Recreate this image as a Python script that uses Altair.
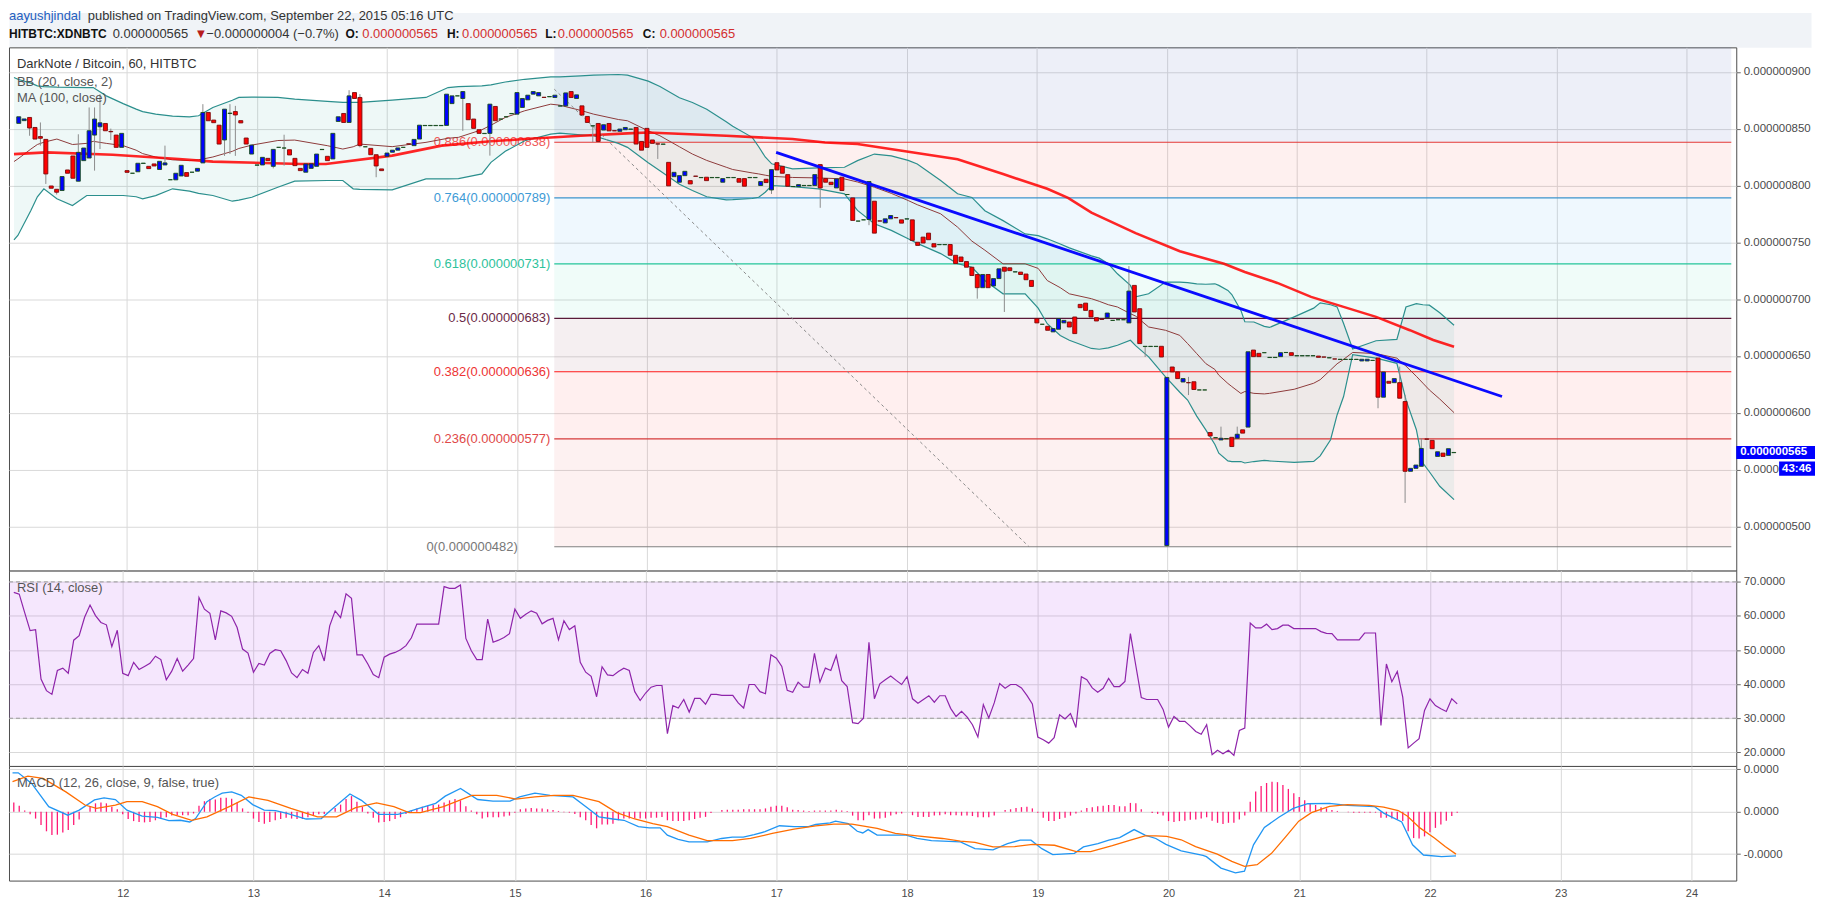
import altair as alt
import numpy as np
import pandas as pd

FONT = "Liberation Sans"
GRID = "#d9d9d9"

# ---------------- x axis (days of September 2015) ----------------
X_MIN, X_MAX = 11.13, 24.343
DAY_TICKS = list(range(12, 25))
FIRST_CANDLE = 11 + 4 / 24          # first hourly candle: 11 Sep 04:00

# ---------------- hourly candles (price in 1e-9 BTC) ----------------
opens = [
    854.6, 857, 859.8, 851, 843, 840.5, 799.5, 796.6, 795.5, 813.6,
    825.9, 803.7, 821.8, 824.1, 844.3, 851.6, 854.5, 847.5, 844.3, 833.5,
    813, 810.7, 812, 819.3, 816.8, 818.9, 814, 818, 805, 804.9,
    808.3, 811.3, 811.6, 812.5, 819.8, 864.2, 857.5, 853, 840, 863.3,
    865, 857, 841.7, 827.6, 817.8, 818, 823.8, 816.8, 833.5, 832.9,
    831.4, 823.8, 815,
    811.6, 815, 816.8, 831.5, 825.6, 823.3, 856.3, 863.3, 855.4, 881.7,
    877.4, 834, 832.6, 827, 814.5, 825.6, 829.2, 831, 833.5, 836.6,
    835, 840.8, 852.6, 852.6, 852.6, 852.6, 852.8, 872, 878.8, 876.5,
    872, 858.4, 849, 845.6, 845.8, 869.5, 858.4, 860.4, 863.1, 862.7,
    868.6, 875.3, 880.3, 878.8, 877.6, 878, 877.4, 869.8, 870, 882.6,
    876.5,
    870, 860.7, 852.3, 854.5, 848.7, 854.5, 848.2, 847.6, 849, 849.4,
    851, 838.7, 850.2, 840, 836.6, 836.2, 820.3, 807.7, 802.8, 808.6,
    804.2, 808.2, 806.8, 807.2, 806.8, 806.8, 802.8, 806.8, 806.8, 806,
    806, 806.8, 806.8, 799.9, 805.4, 796, 820, 816.8, 809.5, 799,
    799, 799.8, 799.8, 799.9, 818.3, 806, 802.8, 797.8, 807.2, 792,
    789, 768.6, 769.7, 770, 786.1, 768.8, 767, 770.6, 771.7, 769.7,
    770.4, 769.7, 750, 754.5, 758, 748.7, 747.8, 747.8, 748, 738.5,
    737, 733, 728, 721.6, 710, 721.6, 711.5, 718, 728, 727.5, 723.8, 723.7, 722, 716.4,
    682.7, 677.8, 676, 671.1, 673.4, 679, 679.8, 684.2, 695.3, 696.4,
    690, 683.6, 682.3, 683.6, 681.2, 681.8, 681.8, 679, 712, 691.5,
    658.2, 658.2, 658.2, 658.4, 483, 640.2, 635.9, 627, 626.5, 627.2,
    620, 620,
    582.5, 578, 576, 577, 578.3, 577.5, 584.9, 587.3,
    655.1, 652.2, 652.8, 648.5, 648.5, 649.3, 652.9, 652.8, 650, 650,
    650, 650, 649.8, 649, 648.2, 647.3, 646.8, 646.8, 646.8, 646.8,
    645.5, 645.5, 646, 648.1, 613.6, 627.6, 626.4, 626.4, 609.8, 548.4,
    551, 552.8, 576.8, 575.6, 561.5, 564.4, 562.4, 564.8,
]
closes = [
    860.4, 858.5, 850.5, 840.8, 841.5, 810.1, 797.5, 794, 807.8, 810.7,
    806.3, 829.1, 832.9, 848.1, 858.4, 855.1, 848.1, 847.2, 833.5, 845.8,
    811.5, 810.7, 819.5, 819.6, 814.8, 817.1, 821.2, 819.8, 805, 810.7,
    817.7, 808, 811.6, 815, 864.2, 856.9, 855.2, 836.4, 867.1, 863.6,
    862, 855, 836.4, 835.5, 818, 824.7, 821.8, 831.7, 833.5, 832.9,
    826.8, 817.4, 813,
    818.9, 819, 827.6, 831.7, 821.8, 845.8, 860.4, 855.4, 878.8, 876.5,
    835, 834, 827, 817.1, 813, 828.5, 831, 833, 833.5, 836.4,
    840.5, 853, 852.8, 852.8, 852.8, 852.8, 880.3, 878.8, 878.8, 882.6,
    857.8, 850.2, 845.8, 845.8, 871.5, 856.9, 858.4, 860.4, 863.3, 881.7,
    876.5, 879.4, 882.6, 881.7, 877.4, 878.2, 879.4, 870, 881.4, 877.4,
    879.7,
    861.9, 855.4, 852.5, 838.7, 853.4, 848, 848, 849.6, 851, 849.6,
    836.4, 831, 833.5, 837, 836.4, 836.4, 799.6, 811.5, 808.6, 812.4,
    801.3, 808, 807, 804.2, 807, 807, 806, 807, 807, 802.8,
    799.3, 807, 807, 803.4, 802.5, 813.9, 813.6, 810.7, 799.3, 799,
    800.7, 800, 800, 809.5, 797.8, 802.8, 800.7, 805.7, 795.5, 792,
    769.2, 768.6, 769.7, 803.4, 758, 768.6, 770.6, 773.5, 771.5, 766.8,
    770.6, 751.6, 747.2, 749.3, 752.2, 745.8, 748, 748, 738.5, 731.2,
    733, 728, 720.7, 710, 721.6, 710, 718, 726.6, 724.5, 725, 724, 721.6, 717, 711.1,
    679, 677.8, 672.5, 674, 682.7, 681.2, 675.4, 669.6, 692.4, 690,
    684.2, 680.7, 682.1, 687.7, 681.2, 681.8, 681.8, 707, 688.6, 660.8,
    658.4, 658.4, 658.4, 649, 631, 635.9, 630, 630, 626.3, 620.4,
    620, 620,
    579.5, 578, 577.5, 577.2, 570.2, 581, 582, 653.6,
    649.3, 649.3, 652.8, 648.7, 648.7, 652.8, 653, 650.4, 650.2, 650.2,
    650.2, 650.2, 648.7, 648.9, 648.4, 647.2, 647, 647, 647, 647,
    647, 647, 646, 613.6, 635.8, 625.9, 630, 612.7, 548.4, 551,
    553.9, 568.5, 576.7, 568.3, 565.6, 561.5, 568.3, 565,
]
# visible wicks: candle index, high, low
wick_idx = [2, 4, 5, 7, 11, 13, 14, 15, 17, 27, 34, 38, 39, 40, 47, 49, 61, 63, 66, 82, 87,
            106, 118, 139, 148, 157, 177, 182, 205, 208, 212, 216, 222, 225, 251, 255, 256, 259]
wick_high = [859.8, 855.4, 840.5, 796.6, 845, 868.6, 868.6, 880.3, 850, 835, 871.5, 867.1, 871.5, 870,
             831.7, 844.6, 883.8, 880.3, 827, 882.6, 871.5, 852.5, 836.6, 813.9, 818.3, 803.4, 721.6,
             728, 729, 658.4, 631, 631.5, 587.7, 587.7, 648.1, 640.5, 615.6, 577.6]
wick_low = [843.7, 835, 801.3, 792, 803.7, 824.1, 813, 832, 840, 818, 819.8, 826, 827.6, 826,
            815, 817.4, 855.4, 833.5, 807.2, 848, 826.2, 838, 823.3, 792.5, 780.3, 765, 700.3,
            688.6, 679, 649, 482, 615.5, 576, 577.5, 603.9, 612.7, 520.6, 552.8]

# ---------------- Bollinger bands (20, 2) and MA(100) ----------------
bb_day = [11.13, 11.16, 11.26, 11.31, 11.36, 11.46, 11.58, 11.69, 11.74, 11.84, 11.97, 12.07, 12.12,
          12.22, 12.35, 12.48, 12.55, 12.66, 12.81, 12.86, 12.96, 13.16, 13.29, 13.54, 13.66, 13.74,
          13.79, 14.04, 14.30, 14.47, 14.55, 14.73, 14.80, 14.91, 15.06, 15.26, 15.33, 15.49, 15.59,
          15.78, 15.85, 16.01, 16.10, 16.25, 16.35, 16.46, 16.61, 16.66, 16.81, 16.86, 16.91, 16.96,
          17.12, 17.32, 17.52, 17.62, 17.75, 17.88, 18.01, 18.08, 18.26, 18.39, 18.50, 18.60, 18.74,
          18.91, 19.01, 19.08, 19.18, 19.25, 19.42, 19.48, 19.55, 19.62, 19.72, 19.76, 19.86, 19.99,
          20.10, 20.16, 20.23, 20.30, 20.37, 20.40, 20.47, 20.50, 20.57, 20.60, 20.67, 20.75, 20.79,
          20.98, 21.13, 21.18, 21.26, 21.31, 21.36, 21.43, 21.61, 21.77, 21.84, 21.92, 21.97, 22.02,
          22.10, 22.21]
bb_upper = [895, 893.4, 890, 887.6, 887, 886.5, 886.3, 886.1, 886.1, 878.8, 872, 867.1, 865,
            862.7, 861, 860.4, 861.3, 868.6, 875, 877.4, 877.7, 877.4, 876, 874, 873, 873,
            873, 875, 877.4, 886.1, 887, 887.6, 888.5, 891, 893.4, 895.5, 895.5, 896.4, 897,
            897.6, 897, 891.8, 887, 877.2, 873, 867.1, 856, 852, 842.3, 834, 825, 819,
            814.5, 815.4, 816, 821.8, 827.6, 826, 822, 818.9, 804.3, 792.6, 789.4, 777.7, 769,
            757.3, 755.8, 753, 748.5, 745, 738, 736, 731, 722.2, 712, 702, 704.6, 714.9,
            714.9, 714.5, 713.4, 713, 713.4, 712, 707.6, 704, 690, 680, 679.8, 676, 675,
            684.3, 692, 696.6, 695, 693.1, 678.5, 656, 663.3, 664.5, 693, 696, 695, 694.6,
            688, 677]
bb_mid = [821, 823.3, 832, 836, 838, 840.8, 836, 837, 838.8, 837, 835, 831, 828,
          825, 822.5, 821.8, 822.5, 825, 830, 832.5, 835.5, 839.5, 839.9, 835, 832, 834,
          836.4, 834.1, 837.9, 841.5, 842.3, 849, 853, 859.8, 865.7, 871.5, 870.6, 866, 862.7,
          858, 856.9, 848, 843.7, 834, 827.6, 822, 816, 814, 811, 810.1, 809, 808,
          807, 806.6, 805.7, 803, 798.4, 793, 786.7, 783, 775, 763.3, 751, 743, 731,
          731, 727, 716.3, 710, 704.6, 700.3, 698, 695, 693, 687.1, 685, 675.4, 672.5,
          668, 660.8, 652, 643.2, 638, 633, 625.7, 623, 616.9, 618.6, 617, 616.5, 617,
          620.6, 625.9, 629, 637.6, 643, 646.9, 653, 652, 648, 641, 632, 626, 620,
          612, 600]
bb_lower = [752, 756, 778, 790, 797, 788.2, 782.3, 791.1, 791.1, 791.1, 791.1, 790, 788.2,
            791, 797, 795, 793, 791.1, 786.1, 787, 789.6, 798.4, 803.7, 804.3, 804.3, 797,
            796.5, 796.1, 805.7, 805.7, 806, 810.1, 820.3, 830, 839.3, 845.2, 846, 844.5, 843.7,
            837, 833.5, 820, 813, 801, 795.5, 790, 787.3, 787.5, 788.5, 789.6, 794, 799.9,
            799, 797, 792.6, 778, 766.2, 760.4, 753, 749, 740, 731.2, 728, 716.3, 704.6,
            704.6, 692, 678.3, 668, 663.7, 656.5, 655.8, 657, 659.3, 663.7, 659, 649.1, 631.5,
            618, 611.1, 597, 584.8, 572, 564.3, 557.5, 557, 557, 555.7, 557, 558, 557.5,
            556.3, 557.1, 562, 576.2, 598, 614.2, 651, 648, 643.4, 611.2, 585, 555.7, 548,
            535.2, 523.5]
ma_day = [11.13, 11.38, 11.89, 12.40, 12.66, 13.34, 13.53, 14.04, 14.42, 14.80, 15.06, 15.49,
          15.85, 16.01, 16.61, 17.12, 17.37, 17.62, 18.05, 18.39, 18.74, 19.08, 19.24, 19.42,
          19.76, 20.10, 20.44, 20.60, 20.85, 21.11, 21.36, 21.61, 21.87, 22.05, 22.21]
ma_val = [827.5, 829.1, 827, 823.3, 820.9, 818.9, 818.9, 826.2, 835, 838.8, 840.8, 843.7,
          845.8, 846.5, 843.7, 840.8, 837.7, 836.4, 829, 823, 810, 797, 789, 776,
          758, 742, 731, 723.8, 714.2, 701.9, 693.1, 684.3, 672.6, 663.9, 658]

# ---------------- drawings ----------------
trend_day = [16.994, 22.579]
trend_val = [829.1, 614.2]
diag_day = [15.287, 18.94]
diag_val = [884.7, 482]
FIB_START = 15.287
fib_price = [482, 577, 636, 683, 731, 789, 838]
fib_label = ["0(0.000000482)", "0.236(0.000000577)", "0.382(0.000000636)", "0.5(0.000000683)",
             "0.618(0.000000731)", "0.764(0.000000789)", "0.886(0.000000838)"]
fib_label_end = [15.006, 15.257, 15.257, 15.257, 15.257, 15.257, 15.257]   # right end of each label
fib_color = ["#808080", "#d63a3a", "#ff1a1a", "#5a1a3a", "#25c49a", "#3d94cc", "#e53935"]
fib_text_color = ["#777777", "#e04848", "#ee3434", "#6b2a47", "#2ec29b", "#3d9ad6", "#f05a5a"]
band_lo = [482, 577, 636, 683, 731, 789, 838]
band_hi = [577, 636, 683, 731, 789, 838, 921.5]
band_fill = ["#e53935", "#ff1a1a", "#7a3050", "#00c896", "#2196f3", "#f44336", "#5c6bc0"]
band_opacity = [0.07, 0.07, 0.08, 0.06, 0.07, 0.08, 0.11]

# ---------------- RSI (14) hourly ----------------
rsi = [
    66.9, 66.4, 61.0, 55.7, 56.0, 41.5, 38.1, 37.0, 44.0, 44.7,
    43.2, 52.9, 54.2, 59.6, 63.2, 60.1, 58.1, 57.4, 51.0, 55.8,
    43.2, 42.5, 46.4, 44.3, 45.2, 46.1, 48.2, 47.2, 41.3, 43.8,
    47.5, 43.8, 45.6, 47.5, 65.4, 62.0, 60.8, 53.0, 61.5, 60.9,
    59.9, 56.6, 50.3, 49.1, 43.5, 46.1, 45.6, 49.0, 50.1, 49.8,
    46.9, 43.3, 41.9, 44.3, 43.2, 49.3, 51.3, 46.8, 57.1, 61.5,
    59.5, 66.5, 65.2, 48.6, 48.6, 45.9, 42.8, 41.9, 47.9, 48.8,
    49.3, 50.1, 51.3, 53.6, 57.6, 57.6, 57.6, 57.6, 57.6, 68.6,
    68.1, 68.1, 69.1, 53.4, 49.8, 47.2, 47.2, 59.1, 52.3, 52.9,
    53.7, 54.8, 62.0, 59.3, 60.5, 61.5, 60.8, 57.7, 58.7, 59.3,
    53.0, 58.6, 56.0, 57.1, 46.4, 43.5, 42.3, 36.3,
    45.1, 42.7, 42.5, 43.7, 44.7, 44.0, 37.8, 35.2, 37.4, 39.1,
    39.6, 39.6, 25.5, 33.7, 33.0, 35.5, 31.8, 35.8, 35.8, 34.1,
    37.0, 37.0, 36.7, 36.7, 36.7, 34.5, 33.0, 39.9, 39.9, 37.8,
    37.2, 48.6, 47.6, 45.2, 38.2, 37.6, 40.6, 39.1, 39.1, 49.0,
    40.6, 44.7, 44.0, 48.4, 41.0, 39.3, 28.7, 28.4, 30.0, 52.3,
    35.7, 40.1, 41.3, 42.4, 41.1, 39.9, 42.2, 35.7, 34.4, 35.5,
    36.6, 34.7, 36.6, 36.6, 32.9, 30.5, 32.0, 30.4, 28.1, 24.5,
    34.0, 30.1, 34.5, 40.2, 38.8, 39.9, 39.9, 38.9, 36.7, 34.2,
    24.5, 23.7, 22.7, 24.3, 31.0, 29.8, 31.4, 27.3, 42.2, 41.3,
    38.9, 37.6, 38.8, 41.7, 39.3, 39.3, 40.8, 54.8, 45.4, 36.1,
    35.5, 35.5, 35.5, 32.6,
    27.4, 30.5, 29.1, 29.1, 27.7, 26.1, 25.3, 28.1, 19.3, 20.6,
    19.6, 20.6, 19.1, 26.4, 27.1, 57.9, 56.5, 56.5, 57.6, 56.0,
    56.3, 57.3, 57.3, 56.3, 56.3, 56.3, 56.3, 56.3, 55.4, 54.9,
    54.8, 53.0, 53.0, 53.0, 53.0, 53.0, 55.0, 55.0, 55.0, 27.9,
    45.9, 40.7, 43.7, 36.2, 21.3, 22.7, 24.0, 32.3, 35.7, 33.7,
    32.8, 32.0, 35.7, 34.2,
]

# ---------------- MACD (12, 26, 9) ----------------
hist = [
    0.22, 0.14, 0.03, -0.06, -0.16, -0.31, -0.46, -0.55, -0.54, -0.49,
    -0.43, -0.31, -0.18, 0.0, 0.13, 0.20, 0.22, 0.20, 0.12, 0.06,
    -0.06, -0.17, -0.22, -0.24, -0.25, -0.24, -0.20, -0.16, -0.13, -0.09,
    -0.08, -0.08, -0.08, -0.04, 0.14, 0.25, 0.30, 0.29, 0.33, 0.33,
    0.31, 0.22, 0.08, -0.02, -0.16, -0.24, -0.28, -0.24, -0.20, -0.17,
    -0.14, -0.16, -0.17, -0.17, -0.13, -0.08, -0.06, -0.05, 0.0, 0.09,
    0.17, 0.30, 0.37, 0.24, 0.12, -0.04, -0.14, -0.25, -0.24, -0.22,
    -0.17, -0.13, -0.05, 0.04, 0.08, 0.12, 0.14, 0.16, 0.17, 0.22,
    0.27, 0.30, 0.27, 0.13, 0.03, -0.06, -0.16, -0.13, -0.13, -0.13,
    -0.11, -0.09, -0.02, 0.06, 0.08, 0.09, 0.08, 0.08, 0.06, 0.04,
    0.02, -0.01, -0.02, -0.05, -0.13, -0.20, -0.31, -0.39,
    -0.30, -0.30, -0.28, -0.20, -0.16, -0.16, -0.16, -0.16, -0.16, -0.14,
    -0.14, -0.12, -0.20, -0.22, -0.22, -0.22, -0.20, -0.17, -0.14, -0.12,
    -0.03, 0.0, 0.04, 0.05, 0.05, 0.05, 0.06, 0.06, 0.06, 0.06,
    0.08, 0.12, 0.14, 0.14, 0.11, 0.05, 0.04, 0.03, 0.02, 0.03,
    0.03, 0.03, 0.03, 0.05, 0.03, 0.02, -0.09, -0.20, -0.20, -0.08,
    -0.16, -0.16, -0.14, -0.09, -0.06, -0.04, 0.0, -0.08, -0.12, -0.12,
    -0.12, -0.09, -0.08, -0.06, -0.08, -0.08, -0.09, -0.09, -0.10, -0.13,
    -0.13, -0.13, -0.09, 0.0, 0.04, 0.06, 0.09, 0.11, 0.12, 0.08,
    -0.02, -0.14, -0.22, -0.22, -0.17, -0.14, -0.09, -0.04, 0.03, 0.09,
    0.11, 0.13, 0.14, 0.16, 0.16, 0.13, 0.13, 0.21, 0.20, 0.06,
    0.0, -0.03, -0.05, -0.09,
    -0.22, -0.24, -0.22, -0.21, -0.19, -0.18, -0.16, -0.13, -0.21, -0.26,
    -0.29, -0.26, -0.26, -0.18, -0.09, 0.24, 0.48, 0.61, 0.68, 0.71,
    0.70, 0.63, 0.54, 0.44, 0.35, 0.27, 0.20, 0.16, 0.11, 0.08,
    0.04, 0.02, 0.0, -0.01, -0.02, -0.02, -0.02, -0.02, -0.02, -0.14,
    -0.14, -0.16, -0.18, -0.22, -0.46, -0.62, -0.63, -0.58, -0.48, -0.38,
    -0.30, -0.21, -0.10, -0.02,
]
macd_day = [11.157, 11.201, 11.303, 11.434, 11.580, 11.667, 11.784, 11.857, 11.944, 12.032, 12.149,
            12.265, 12.353, 12.440, 12.513, 12.557, 12.644, 12.703, 12.761, 12.834, 12.907, 12.994,
            13.082, 13.169, 13.257, 13.403, 13.519, 13.607, 13.738, 13.826, 13.957, 14.103, 14.161,
            14.278, 14.394, 14.467, 14.584, 14.715, 14.832, 14.963, 15.036, 15.153, 15.270, 15.444,
            15.561, 15.643, 15.751, 15.834, 15.945, 16.028, 16.111, 16.166, 16.249, 16.332, 16.471,
            16.581, 16.664, 16.747, 16.830, 16.913, 17.024, 17.135, 17.245, 17.301, 17.412, 17.453,
            17.550, 17.619, 17.661, 17.702, 17.771, 17.993, 18.076, 18.187, 18.408, 18.519, 18.657,
            18.768, 18.865, 18.948, 19.031, 19.114, 19.280, 19.349, 19.460, 19.543, 19.626, 19.737,
            19.820, 19.903, 19.980, 20.097, 20.263, 20.290, 20.401, 20.512, 20.581, 20.650, 20.733,
            20.844, 20.954, 21.065, 21.231, 21.369, 21.577, 21.646, 21.784, 21.867, 21.950, 22.089,
            22.199]
macd_val = [0.92, 0.92, 0.67, 0.12, -0.08, 0.04, 0.28, 0.33, 0.29, 0.04, -0.10,
            -0.13, -0.21, -0.20, -0.24, -0.16, 0.24, 0.35, 0.44, 0.47, 0.39, 0.17,
            0.04, 0.03, -0.04, -0.17, -0.16, 0.08, 0.42, 0.27, -0.06, -0.06, -0.02,
            0.09, 0.20, 0.37, 0.55, 0.29, 0.25, 0.25, 0.35, 0.44, 0.39, 0.35,
            0.08, -0.12, -0.17, -0.20, -0.35, -0.38, -0.38, -0.55, -0.65, -0.71, -0.71,
            -0.63, -0.60, -0.60, -0.54, -0.47, -0.33, -0.35, -0.35, -0.30, -0.26, -0.22,
            -0.28, -0.46, -0.50, -0.42, -0.55, -0.55, -0.63, -0.68, -0.71, -0.87, -0.90,
            -0.75, -0.67, -0.67, -0.87, -1.01, -0.98, -0.83, -0.75, -0.67, -0.61, -0.42,
            -0.55, -0.63, -0.77, -0.92, -1.03, -1.06, -1.33, -1.44, -1.40, -0.78, -0.37,
            -0.13, 0.08, 0.19, 0.20, 0.15, 0.12, -0.03, -0.24, -0.78, -1.02, -1.06,
            -1.04]
signal_day = [11.157, 11.274, 11.390, 11.565, 11.711, 11.799, 11.944, 12.032, 12.149, 12.265, 12.382,
              12.528, 12.644, 12.819, 12.965, 13.111, 13.286, 13.490, 13.636, 13.782, 13.942, 14.074,
              14.190, 14.278, 14.453, 14.671, 14.861, 15.007, 15.153, 15.299, 15.444, 15.643, 15.779,
              15.917, 16.055, 16.166, 16.332, 16.471, 16.664, 16.803, 16.969, 17.135, 17.301, 17.439,
              17.578, 17.771, 17.910, 18.076, 18.270, 18.408, 18.519, 18.657, 18.823, 18.962, 19.128,
              19.294, 19.404, 19.570, 19.709, 19.820, 19.903, 19.986, 20.097, 20.207, 20.373, 20.484,
              20.581, 20.678, 20.788, 20.899, 20.996, 21.093, 21.231, 21.369, 21.535, 21.646, 21.757,
              21.826, 21.923, 22.034, 22.116, 22.199]
signal_val = [0.71, 0.84, 0.79, 0.47, 0.16, 0.08, 0.16, 0.24, 0.24, 0.12, -0.06,
              -0.20, -0.12, 0.13, 0.35, 0.27, 0.08, -0.12, -0.12, 0.10, 0.21, 0.12,
              -0.02, -0.02, 0.12, 0.39, 0.39, 0.30, 0.35, 0.39, 0.39, 0.24, -0.02,
              -0.17, -0.28, -0.35, -0.55, -0.68, -0.68, -0.63, -0.51, -0.41, -0.33, -0.29,
              -0.29, -0.39, -0.51, -0.57, -0.63, -0.69, -0.72, -0.83, -0.82, -0.77, -0.79,
              -0.94, -0.94, -0.80, -0.67, -0.57, -0.57, -0.58, -0.66, -0.82, -1.00, -1.17,
              -1.29, -1.25, -0.98, -0.58, -0.22, -0.02, 0.13, 0.17, 0.15, 0.11, 0.03,
              -0.10, -0.38, -0.62, -0.82, -1.00]

# ---------------- tick values ----------------
PRICE_TICKS = [500, 550, 600, 650, 700, 750, 800, 850, 900]
RSI_TICKS = [20, 30, 40, 50, 60, 70]
MACD_TICKS = [-1, 0, 1]

# ---------------- tables ----------------
n = min(len(opens), len(closes))
candles = pd.DataFrame({"i": range(n), "open": opens[:n], "close": closes[:n]})
candles["day"] = FIRST_CANDLE + candles["i"] / 24
candles["dir"] = np.where(candles["close"] >= candles["open"], "up", "down")
wicks = pd.DataFrame({"i": wick_idx, "high": wick_high, "low": wick_low})
wicks["day"] = FIRST_CANDLE + wicks["i"] / 24
bb = pd.DataFrame({"day": bb_day, "upper": bb_upper, "mid": bb_mid, "lower": bb_lower})
ma = pd.DataFrame({"day": ma_day, "ma": ma_val})
trend = pd.DataFrame({"day": trend_day, "v": trend_val})
diag = pd.DataFrame({"day": diag_day, "v": diag_val})
fib = pd.DataFrame({"x0": FIB_START, "x1": X_MAX, "p": fib_price, "label": fib_label,
                    "lx": fib_label_end, "lc": fib_color, "tc": fib_text_color})
bands = pd.DataFrame({"x0": FIB_START, "x1": X_MAX, "lo": band_lo, "hi": band_hi,
                      "fill": band_fill, "op": band_opacity})
rsi_df = pd.DataFrame({"i": range(len(rsi)), "rsi": rsi})
rsi_df["day"] = FIRST_CANDLE + rsi_df["i"] / 24
hist_df = pd.DataFrame({"i": range(len(hist)), "h": hist})
hist_df["day"] = FIRST_CANDLE + hist_df["i"] / 24
macd_df = pd.DataFrame({"day": macd_day, "v": macd_val})
sig_df = pd.DataFrame({"day": signal_day, "v": signal_val})

PW = 1733
xs = alt.Scale(domain=[X_MIN, X_MAX], nice=False, zero=False)
ps = alt.Scale(domain=[461, 921.5], nice=False, zero=False)
rs = alt.Scale(domain=[16.0, 73.3], nice=False, zero=False)
ms = alt.Scale(domain=[-1.624, 1.082], nice=False, zero=False)

grid_x = alt.Axis(values=DAY_TICKS, grid=True, gridColor=GRID, labels=False, ticks=False,
                  domain=False, title=None)
bottom_x = alt.Axis(values=DAY_TICKS, grid=True, gridColor=GRID, labels=True, ticks=False,
                    domain=False, title=None, format="d", labelFontSize=11, labelColor="#4a4a4a",
                    labelPadding=7, labelFont=FONT)


def right_axis(values, expr):
    return alt.Axis(orient="right", values=values, labelExpr=expr, grid=True, gridColor=GRID,
                    domain=False, ticks=True, tickSize=4, tickColor="#666666", labelColor="#4a4a4a",
                    labelFontSize=11.5, labelPadding=3, labelFont=FONT, title=None)


price_axis = right_axis(PRICE_TICKS, "'0.000000' + datum.value")
rsi_axis = right_axis(RSI_TICKS, "format(datum.value, '.4f')")
macd_axis = right_axis(MACD_TICKS, "datum.value < 0 ? '-0.0000' : '0.0000'")


def X(field, axis=grid_x):
    return alt.X(field, type="quantitative", scale=xs, axis=axis, title=None)


def XB(field):
    return X(field, bottom_x)


def P(field):
    return alt.Y(field, type="quantitative", scale=ps, axis=price_axis, title=None)


def R(field):
    return alt.Y(field, type="quantitative", scale=rs, axis=rsi_axis, title=None)


def M(field):
    return alt.Y(field, type="quantitative", scale=ms, axis=macd_axis, title=None)


def label(text, ypix, color="#555555"):
    return alt.Chart(pd.DataFrame({"t": [text]})).mark_text(
        align="left", baseline="middle", fontSize=13, font=FONT, color=color).encode(
        x=alt.value(8), y=alt.value(ypix), text="t:N")


# ---------------- price panel ----------------
band_layer = alt.Chart(bands).mark_rect().encode(
    x=X("x0"), x2="x1", y=P("lo"), y2="hi",
    color=alt.Color("fill:N", scale=None), opacity=alt.Opacity("op:Q", scale=None))
bb_area = alt.Chart(bb).mark_area(color="#26a69a", opacity=0.08).encode(
    x=X("day"), y=P("upper"), y2="lower")
fib_lines = alt.Chart(fib).mark_rule(strokeWidth=1.2).encode(
    x=X("x0"), x2="x1", y=P("p"), color=alt.Color("lc:N", scale=None))
fib_text = alt.Chart(fib).mark_text(align="right", baseline="middle", fontSize=13,
                                    font=FONT).encode(
    x=X("lx"), y=P("p"), text="label:N", color=alt.Color("tc:N", scale=None))
bb_up = alt.Chart(bb).mark_line(color="#2b8f8d", strokeWidth=1.2).encode(x=X("day"), y=P("upper"))
bb_lo = alt.Chart(bb).mark_line(color="#2b8f8d", strokeWidth=1.2).encode(x=X("day"), y=P("lower"))
bb_md = alt.Chart(bb).mark_line(color="#8e3b3b", strokeWidth=1).encode(x=X("day"), y=P("mid"))
ma_line = alt.Chart(ma).mark_line(color="#ff0000", strokeWidth=2.6, opacity=0.85).encode(
    x=X("day"), y=P("ma"))
diag_line = alt.Chart(diag).mark_line(color="#8a8a8a", strokeWidth=1, strokeDash=[3, 3]).encode(
    x=X("day"), y=P("v"))
wick_layer = alt.Chart(wicks).mark_rule(color="#8c8c8c", strokeWidth=1).encode(
    x=X("day"), y=P("low"), y2="high")
body_layer = alt.Chart(candles).mark_bar(size=4, strokeWidth=0.9).encode(
    x=X("day"), y=P("open"), y2="close",
    color=alt.Color("dir:N", scale=alt.Scale(domain=["up", "down"], range=["#0000ff", "#ff0000"]),
                    legend=None),
    stroke=alt.Stroke("dir:N", scale=alt.Scale(domain=["up", "down"], range=["#184d1c", "#7a0a0a"]),
                      legend=None))
trend_line = alt.Chart(trend).mark_line(color="#0a0aff", strokeWidth=2.8).encode(x=X("day"), y=P("v"))

last_box = pd.DataFrame({"lo": [559.2], "hi": [570.6], "mid": [565.0], "label": ["0.000000565"]})
timer_box = pd.DataFrame({"lo": [544.4], "hi": [557.0], "mid": [550.7], "label": ["43:46"]})
last_rect = alt.Chart(last_box).mark_rect(color="#0000ff").encode(
    x=alt.value(PW), x2=alt.value(PW + 79), y=P("lo"), y2="hi")
last_txt = alt.Chart(last_box).mark_text(align="left", baseline="middle", color="white",
                                         fontWeight="bold", fontSize=11.5, font=FONT).encode(
    x=alt.value(PW + 4), y=P("mid"), text="label:N")
timer_rect = alt.Chart(timer_box).mark_rect(color="#0000ff").encode(
    x=alt.value(PW + 43), x2=alt.value(PW + 79), y=P("lo"), y2="hi")
timer_txt = alt.Chart(timer_box).mark_text(align="left", baseline="middle", color="white",
                                           fontWeight="bold", fontSize=11.5, font=FONT).encode(
    x=alt.value(PW + 46), y=P("mid"), text="label:N")

price = alt.layer(band_layer, bb_area, fib_lines, fib_text, bb_up, bb_lo, bb_md, ma_line, diag_line,
                  wick_layer, body_layer, trend_line,
                  label("DarkNote / Bitcoin, 60, HITBTC", 17, "#333333"),
                  label("BB (20, close, 2)", 35), label("MA (100, close)", 51),
                  last_rect, last_txt, timer_rect, timer_txt).properties(
    width=PW, height=525, view=alt.ViewBackground(fill="white", stroke="#4d4d4d", strokeWidth=1))

# ---------------- RSI panel ----------------
rsi_band = pd.DataFrame({"x0": [X_MIN], "x1": [X_MAX], "lo": [30], "hi": [70]})
rsi_lines = pd.DataFrame({"x0": [X_MIN, X_MIN], "x1": [X_MAX, X_MAX], "v": [30, 70]})
rsi_bg = alt.Chart(rsi_band).mark_rect(color="#b048f0", opacity=0.13).encode(
    x=X("x0"), x2="x1", y=R("lo"), y2="hi")
rsi_dash = alt.Chart(rsi_lines).mark_rule(color="#9a9a9a", strokeDash=[4, 3], strokeWidth=1).encode(
    x=X("x0"), x2="x1", y=R("v"))
rsi_line = alt.Chart(rsi_df).mark_line(color="#8e24aa", strokeWidth=1.2).encode(x=X("day"), y=R("rsi"))
rsi_panel = alt.layer(rsi_bg, rsi_dash, rsi_line, label("RSI (14, close)", 17)).properties(
    width=PW, height=196, view=alt.ViewBackground(fill="white", stroke="#4d4d4d", strokeWidth=1))

# ---------------- MACD panel ----------------
hist_layer = alt.Chart(hist_df).mark_rule(color="#ff1a75", strokeWidth=1.3).encode(
    x=XB("day"), y=M("h"), y2=alt.datum(0))
macd_line = alt.Chart(macd_df).mark_line(color="#2196f3", strokeWidth=1.3).encode(x=XB("day"), y=M("v"))
sig_line = alt.Chart(sig_df).mark_line(color="#ff6d00", strokeWidth=1.3).encode(x=XB("day"), y=M("v"))
macd_panel = alt.layer(hist_layer, macd_line, sig_line,
                       label("MACD (12, 26, close, 9, false, true)", 17)).properties(
    width=PW, height=115, view=alt.ViewBackground(fill="white", stroke="#4d4d4d", strokeWidth=1))

# ---------------- header ----------------
HW = 1808
head = pd.DataFrame({
    "t": ["aayushjindal", "published on TradingView.com, September 22, 2015 05:16 UTC",
          "HITBTC:XDNBTC", "0.000000565", "\u25bc", "\u22120.000000004 (\u22120.7%)",
          "O:", "0.000000565", "H:", "0.000000565", "L:", "0.000000565", "C:", "0.000000565"],
    "x": [0, 79, 0, 104, 186, 198, 337.6, 354.5, 439.4, 454.5, 538, 550.6, 635.9, 652.8],
    "y": [8, 8, 26, 26, 26, 26, 26, 26, 26, 26, 26, 26, 26, 26],
    "c": ["#2560c0", "#333333", "#111111", "#333333", "#b71c1c", "#333333", "#111111", "#d32f2f",
          "#111111", "#d32f2f", "#111111", "#d32f2f", "#111111", "#d32f2f"],
    "bold": [False, False, True, False, False, False, True, False, True, False, True, False, True, False],
})
hx = alt.Scale(domain=[0, HW], range=[0, HW])
hy = alt.Scale(domain=[0, 35], range=[0, 35])
head_norm = alt.Chart(head).transform_filter("!datum.bold").mark_text(
    align="left", baseline="alphabetic", fontSize=13, font=FONT).encode(
    x=alt.X("x:Q", scale=hx, axis=None), y=alt.Y("y:Q", scale=hy, axis=None), text="t:N",
    color=alt.Color("c:N", scale=None))
head_bold = alt.Chart(head).transform_filter("datum.bold").mark_text(
    align="left", baseline="alphabetic", fontSize=12, fontWeight="bold", font=FONT).encode(
    x=alt.X("x:Q", scale=hx, axis=None), y=alt.Y("y:Q", scale=hy, axis=None), text="t:N",
    color=alt.Color("c:N", scale=None))
header = alt.layer(head_norm, head_bold).properties(
    width=HW, height=35, view=alt.ViewBackground(fill="#f0f3f7", stroke="transparent"))

chart = alt.vconcat(header, price, rsi_panel, macd_panel, spacing=0, bounds="flush").properties(
    padding=0
).configure(background="white", font=FONT).resolve_scale(x="independent", y="independent")

chart.save("out.html", embed_options={"renderer": "svg", "actions": False})
